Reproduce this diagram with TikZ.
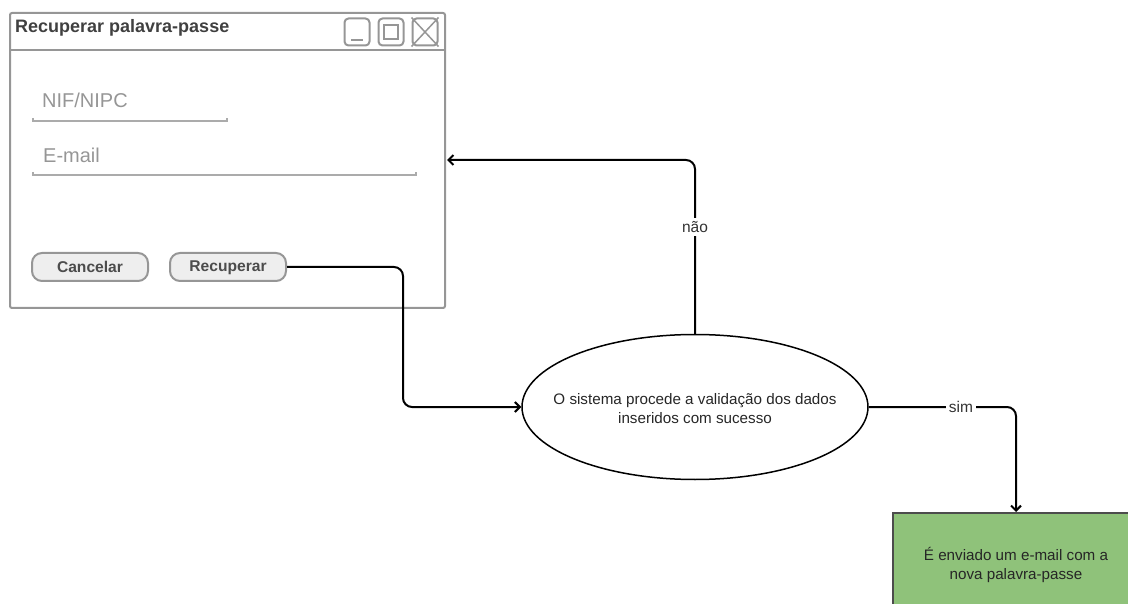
\documentclass[tikz,border=0pt]{standalone}
\usepackage{fontspec}
\setmainfont{Liberation Sans}
\usetikzlibrary{shapes.geometric, arrows.meta, positioning, calc}
\definecolor{wingray}{RGB}{150,150,150}
\definecolor{fieldgray}{RGB}{150,150,150}
\definecolor{btnfill}{RGB}{238,238,238}
\definecolor{okgreen}{RGB}{143,194,122}

\begin{document}
\begin{tikzpicture}[
  x=1pt, y=-1pt,
  winline/.style={draw=wingray, line width=2pt},
  ctrlbox/.style={winline, rounded corners=4pt, minimum width=25pt, minimum height=27pt, inner sep=0pt},
  button/.style={winline, fill=btnfill, rounded corners=10pt, minimum width=116pt, minimum height=28pt,
    text depth=1pt, font=\fontsize{15.6}{17}\selectfont\bfseries, text=black!70},
  fieldtext/.style={font=\fontsize{20}{22}\selectfont, text=fieldgray, anchor=west, inner sep=0pt},
  conn/.style={draw, line width=2pt, rounded corners=9pt, -{Straight Barb[length=5pt, width=10pt]}},
  lbl/.style={fill=white, font=\fontsize{15.5}{17}\selectfont, text=black!80, inner sep=3pt},
  flowtext/.style={align=center, font=\fontsize{15.2}{19}\selectfont, text=black!85}
]
\useasboundingbox (0,0) rectangle (1128,604);

% window
\draw[winline, rounded corners=2pt] (10,13) rectangle (445,308);
\draw[winline] (10,50) -- (445,50);
\node[anchor=west, inner sep=0pt, font=\fontsize{18}{20}\selectfont\bfseries, text=black!75] (title) at (15,28) {Recuperar palavra-passe};
\node[ctrlbox] (minbtn) at (357,32) {};
\draw[winline, line width=1.5pt] (351,40) -- (363,40);
\node[ctrlbox] (maxbtn) at (391,32) {};
\draw[winline] (384,25) rectangle (398,39);
\node[ctrlbox] (closebtn) at (425,32) {};
\draw[winline, line width=1.5pt] (closebtn.north west) -- (closebtn.south east)
  (closebtn.north east) -- (closebtn.south west);

% fields
\node[fieldtext] (nif) at (42,100) {NIF/NIPC};
\draw[draw=wingray!80, line width=2pt] (33,118) -- (33,121) -- (227,121) -- (227,118);
\node[fieldtext] (email) at (43,155) {E-mail};
\draw[draw=wingray!80, line width=2pt] (33,172) -- (33,175) -- (416,175) -- (416,172);

% buttons
\node[button] (btncancel) at (90,267) {Cancelar};
\node[button] (btnrecuperar) at (228,267) {Recuperar};

% flow
\node[ellipse, draw, line width=1.5pt, minimum width=346pt, minimum height=145pt, inner sep=0pt] (validacao) at (695,407) {};
\node[flowtext] (validacaotxt) at ($(validacao.center)+(0,2)$)
  {O sistema procede a validação dos dados\\inseridos com sucesso};
\node[rectangle, draw=black!70, line width=2pt, fill=okgreen, minimum width=246pt, minimum height=104pt,
  flowtext] (enviado) at (1016,565)
  {É enviado um e-mail com a\\nova palavra-passe};

\draw[conn] (btnrecuperar.east) -- (403,267) -- (403,407) -- (validacao.west);
\draw[conn] (validacao.north) -- (695,160) -- (447,160);
\node[lbl] (nao) at (695,227) {não};
\draw[conn] (validacao.east) -- (1016,407) -- (enviado.north);
\node[lbl] (sim) at (961,407) {sim};

\end{tikzpicture}
\end{document}
